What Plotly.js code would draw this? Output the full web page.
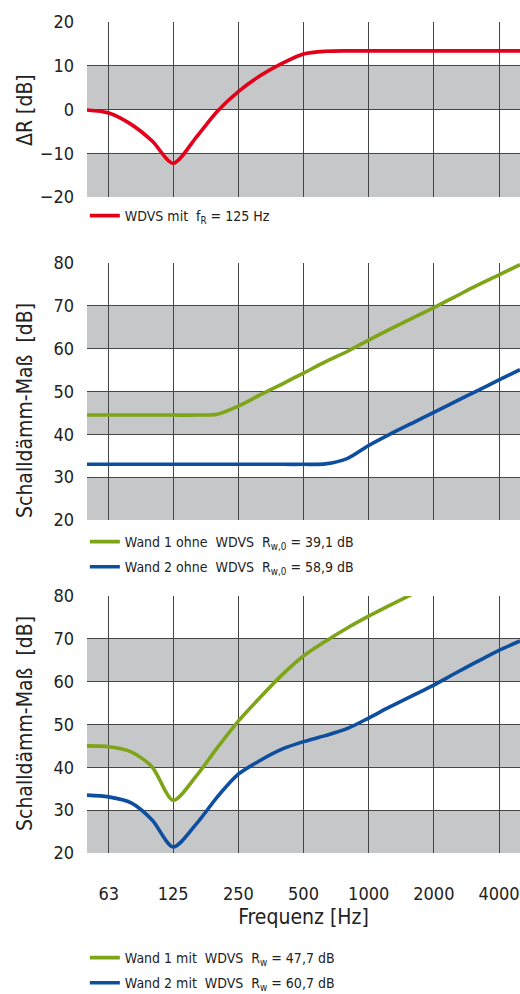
<!DOCTYPE html>
<html>
<head>
<meta charset="utf-8">
<script src="https://cdn.plot.ly/plotly-3.0.1.min.js"></script>
<style>
  html, body { margin: 0; padding: 0; background: #fff; }
  #chart { width: 520px; height: 994px; }
</style>
</head>
<body>
<div id="chart"></div>
<script>
// Third-octave band centre frequencies [Hz]
const freqs = [50, 63, 80, 100, 125, 160, 200, 250, 315, 400, 500, 630, 800, 1000, 1250, 1600, 2000, 2500, 3150, 4000, 5000];

// Improvement of sound reduction by the ETICS (resonance at 125 Hz) [dB]
const deltaR = [-0.1, -0.8, -3.4, -7.2, -12.3, -6.3, -0.4, 4.1, 7.7, 10.6, 12.7, 13.3, 13.4, 13.4, 13.4, 13.4, 13.4, 13.4, 13.4, 13.4, 13.4];

// Sound reduction index without ETICS [dB]
const wall1Bare = [44.5, 44.5, 44.5, 44.5, 44.5, 44.5, 44.7, 46.6, 49.2, 51.8, 54.3, 56.9, 59.4, 62.0, 64.5, 67.2, 69.6, 72.1, 74.7, 77.2, 79.6];
const wall2Bare = [33.0, 33.0, 33.0, 33.0, 33.0, 33.0, 33.0, 33.0, 33.0, 33.0, 33.0, 33.1, 34.4, 37.4, 40.0, 42.7, 45.1, 47.6, 50.1, 52.7, 55.1];

// Sound reduction index with ETICS [dB]
const wall1Etics = [45.0, 44.8, 43.6, 40.1, 32.3, 38.0, 44.6, 50.8, 56.3, 61.7, 66.0, 69.4, 72.6, 75.3, 77.8, 80.5];
const wall2Etics = [33.5, 33.1, 31.7, 27.7, 21.4, 26.8, 33.1, 38.4, 41.6, 44.3, 46.0, 47.4, 49.1, 51.5, 54.1, 56.8, 59.2, 61.9, 64.6, 67.3, 69.5];

// Octave tick labels
const tickFreqs = [63, 125, 250, 500, 1000, 2000, 4000];
const tickLabels = ['63', '125', '250', '500', '1000', '2000', '4000'];

// Shaded value bands per panel
const bandsDelta = [[-20, -10], [0, 10]];
const bandsLevel = [[20, 30], [40, 50], [60, 70]];

// Axis and legend labels
const titleDelta = '\u0394R [dB]';
const titleLevel = 'Schalld\u00e4mm-Ma\u00df\u00A0 [dB]';
const titleFreq = 'Frequenz [Hz]';
const nameDelta = 'WDVS mit\u00A0 f<sub>R</sub> = 125 Hz';
const nameW1Bare = 'Wand 1 ohne\u00A0 WDVS\u00A0 R<sub>w,0</sub> = 39,1 dB';
const nameW2Bare = 'Wand 2 ohne\u00A0 WDVS\u00A0 R<sub>w,0</sub> = 58,9 dB';
const nameW1Etics = 'Wand 1 mit\u00A0 WDVS\u00A0 R<sub>w</sub> = 47,7 dB';
const nameW2Etics = 'Wand 2 mit\u00A0 WDVS\u00A0 R<sub>w</sub> = 60,7 dB';

const RED = '#e2001a';
const GREEN = '#7ea518';
const BLUE = '#0d4f9e';
const BAND = '#c6c7c9';
const GRID = '#454545';
const TEXT = '#222';
const FONT = '"Liberation Sans Narrow", "DejaVu Sans Condensed", "Roboto", sans-serif';

const lineStyle = (c) => ({ color: c, width: 3.6, shape: 'spline', smoothing: 0.8 });

const traces = [
  { x: freqs, y: deltaR, name: nameDelta, legendgroup: 'd', type: 'scatter', mode: 'lines', line: lineStyle(RED), xaxis: 'x', yaxis: 'y', legend: 'legend' },
  { x: freqs, y: wall1Bare, name: nameW1Bare, legendgroup: 'b1', type: 'scatter', mode: 'lines', line: lineStyle(GREEN), xaxis: 'x', yaxis: 'y2', legend: 'legend2' },
  { x: freqs, y: wall2Bare, name: nameW2Bare, legendgroup: 'b2', type: 'scatter', mode: 'lines', line: lineStyle(BLUE), xaxis: 'x', yaxis: 'y2', legend: 'legend2' },
  { x: freqs.slice(0, wall1Etics.length), y: wall1Etics, name: nameW1Etics, legendgroup: 'e1', type: 'scatter', mode: 'lines', line: lineStyle(GREEN), xaxis: 'x', yaxis: 'y3', legend: 'legend3' },
  { x: freqs, y: wall2Etics, name: nameW2Etics, legendgroup: 'e2', type: 'scatter', mode: 'lines', line: lineStyle(BLUE), xaxis: 'x', yaxis: 'y3', legend: 'legend3' }
];

const H = 994;
const L = 87, PW = 433;
const dom = (topPx, botPx) => [1 - botPx / H, 1 - topPx / H];

const shapes = [];
bandsDelta.forEach(([a, b]) => shapes.push({ type: 'rect', xref: 'paper', yref: 'y', x0: 0, x1: 1, y0: a, y1: b, fillcolor: BAND, line: { width: 0 }, layer: 'below' }));
['y2', 'y3'].forEach(ref => bandsLevel.forEach(([a, b]) => shapes.push({ type: 'rect', xref: 'paper', yref: ref, x0: 0, x1: 1, y0: a, y1: b, fillcolor: BAND, line: { width: 0 }, layer: 'below' })));

// Rotated axis captions, placed beside each panel
const yTitle = (text, centerPx) => ({
  text: text, textangle: -90, showarrow: false,
  xref: 'paper', yref: 'paper', x: (25 - L) / PW, y: 1 - centerPx / H,
  xanchor: 'center', yanchor: 'middle',
  font: { family: FONT, size: 21, color: TEXT }
});

const yCommon = {
  dtick: 10, tick0: 0, showgrid: true, gridcolor: GRID, gridwidth: 1,
  zeroline: true, zerolinecolor: GRID, zerolinewidth: 1,
  showline: false, ticks: '', ticklabelstandoff: 12, automargin: false,
  tickfont: { family: FONT, size: 18, color: TEXT },
  fixedrange: true
};

const legendCommon = {
  xref: 'paper', yref: 'paper', x: -0.005, xanchor: 'left', yanchor: 'top',
  bgcolor: 'rgba(0,0,0,0)', borderwidth: 0,
  font: { family: FONT, size: 14, color: TEXT },
  tracegroupgap: 4, itemclick: false, itemdoubleclick: false
};

const layout = {
  width: 520, height: 994,
  margin: { l: L, r: 0, t: 0, b: 0, autoexpand: false },
  paper_bgcolor: '#fff', plot_bgcolor: '#fff',
  font: { family: FONT, color: TEXT },
  xaxis: {
    type: 'log', range: [Math.log10(50), Math.log10(5000)], anchor: 'y3',
    tickvals: tickFreqs, ticktext: tickLabels,
    showgrid: true, gridcolor: GRID, gridwidth: 1, zeroline: false, showline: false,
    ticks: '', ticklabelstandoff: 28, automargin: false,
    tickfont: { family: FONT, size: 18, color: TEXT },
    title: { text: titleFreq, font: { family: FONT, size: 21, color: TEXT }, standoff: 6 },
    fixedrange: true
  },
  yaxis: Object.assign({}, yCommon, { domain: dom(22, 197), range: [-20, 20] }),
  yaxis2: Object.assign({}, yCommon, { domain: dom(263, 520), range: [20, 80] }),
  yaxis3: Object.assign({}, yCommon, { domain: dom(596, 853), range: [20, 80] }),
  annotations: [
    yTitle(titleDelta, 110),
    yTitle(titleLevel, 411),
    yTitle(titleLevel, 724)
  ],
  shapes: shapes,
  showlegend: true,
  legend: Object.assign({}, legendCommon, { y: 1 - 200 / H }),
  legend2: Object.assign({}, legendCommon, { y: 1 - 526 / H }),
  legend3: Object.assign({}, legendCommon, { y: 1 - 942 / H })
};

Plotly.newPlot('chart', traces, layout, { staticPlot: true, displayModeBar: false });
</script>
</body>
</html>
